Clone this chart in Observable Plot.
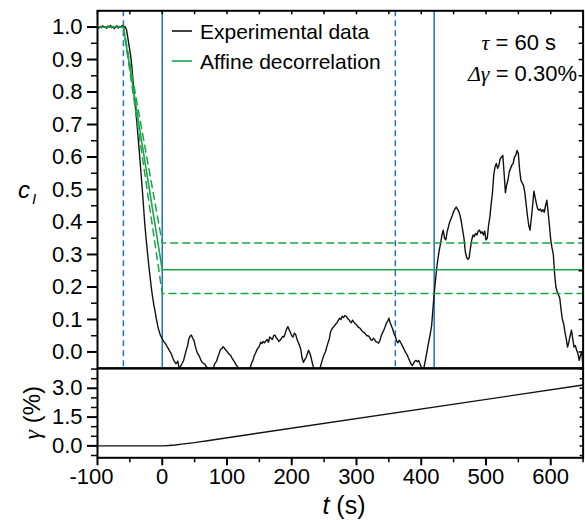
<!DOCTYPE html>
<html><head><meta charset="utf-8">
<script src="https://cdn.jsdelivr.net/npm/d3@7"></script>
<script src="https://cdn.jsdelivr.net/npm/@observablehq/plot@0.6"></script>
<style>
body{margin:0;background:#fff;}
#chart{position:relative;width:585px;height:520px;background:#fff;}
#chart svg{position:absolute;left:0;display:block;overflow:visible;}
</style>
</head><body>
<div id="chart"></div>
<script>
// ---------- data ----------
const tExp = [-100,-98,-96,-94,-92,-90,-88,-86,-84,-82,-80,-78,-76,-74,-72,-70,-68,-66,-64,-62,-60,-58,-57,
-55,-53,-51,-49,-47,-45,-43,-41,-39,-37,-35,-33,-31,-29,-27,-25,-23,-21,-19,-17,-15,-13,-11,-9,-7,-5,-3,-1,
1,3,5,7,9,11,13,15,17,19,21,23,24,26,28,31,33,35,37,39,41,43,45,47,49,51,53,55,57,59,61,63,66,68,71,74,78,81,84,86,88,90,92,94,96,98,100,102,104,106,108,110,112,114,116,118,121,126,131,135,138,140,142,144,146,148,150,
152,154,156,158,160,162,164,166,168,170,172,174,176,178,180,182,184,186,188,190,192,194,196,198,200,202,204,206,208,210,212,214,216,218,220,222,224,226,228,230,232,234,238,243,245,247,250,252,254,256,258,
260,262,264,266,268,270,272,274,276,278,280,282,284,286,288,290,292,294,296,298,300,302,304,306,308,310,312,314,316,318,320,322,324,326,328,330,332,334,336,338,340,342,344,346,348,350,352,354,356,358,
360,362,364,366,368,370,372,374,376,378,380,382,384,386,388,390,392,394,396,398,400,403,406,408,410,412,414,416,418,
420,422,424,426,428,430,432,434,436,438,440,442,444,446,448,450,452,454,456,458,460,462,464,466,468,470,472,474,476,478,480,482,484,486,488,490,492,494,496,498,
500,502,504,506,508,510,512,514,516,518,520,522,524,526,528,530,532,534,536,538,540,542,544,546,548,550,552,554,556,558,560,562,564,566,568,570,572,574,576,578,
580,582,584,586,588,590,592,594,596,598,600,602,604,606,608,610,612,614,616,618,620,622,624,626,628,630,632,634,636,638,640,642,644,646,648,650];
const cExp = [1.000,0.997,1.002,0.998,1.004,0.999,1.001,0.996,1.003,1.000,1.005,0.998,1.002,0.995,1.001,1.004,0.997,1.002,0.999,1.005,0.998,1.002,1.000,
0.99,0.965,0.94,0.915,0.88,0.83,0.785,0.745,0.70,0.655,0.605,0.555,0.505,0.45,0.395,0.35,0.31,0.27,0.235,0.20,0.17,0.145,0.125,0.10,0.08,0.065,0.052,0.045,
0.036,0.03,0.026,0.018,0.012,0.004,-0.002,-0.012,-0.022,-0.03,-0.036,-0.032,-0.028,-0.05,-0.045,-0.034,-0.026,-0.01,0.005,0.018,0.04,0.048,0.052,0.042,0.036,0.018,0.004,-0.006,-0.012,-0.022,-0.03,-0.034,-0.038,-0.045,-0.052,-0.06,-0.058,-0.036,-0.028,-0.015,-0.004,0.008,0.01,0.016,0.012,0.006,0.002,-0.004,-0.008,-0.012,-0.02,-0.026,-0.032,-0.04,-0.044,-0.052,-0.06,-0.065,-0.062,-0.055,-0.034,-0.026,-0.012,-0.004,0.006,0.012,0.018,
0.03,0.026,0.032,0.028,0.034,0.038,0.03,0.046,0.042,0.038,0.05,0.052,0.044,0.04,0.032,0.036,0.042,0.048,0.046,0.058,0.07,0.078,0.068,0.06,0.05,0.046,0.058,0.054,0.04,0.03,0.02,0.008,-0.018,-0.032,-0.024,-0.018,-0.006,0.005,-0.004,-0.018,-0.036,-0.05,-0.062,-0.058,-0.04,-0.026,-0.008,0.0,0.015,0.028,0.04,
0.062,0.07,0.076,0.08,0.086,0.09,0.098,0.104,0.1,0.11,0.106,0.112,0.11,0.104,0.1,0.094,0.09,0.098,0.092,0.087,0.084,0.078,0.075,0.072,0.066,0.062,0.06,0.055,0.05,0.05,0.046,0.038,0.036,0.042,0.038,0.032,0.03,0.027,0.034,0.048,0.058,0.066,0.076,0.088,0.094,0.104,0.09,0.08,0.07,0.056,
0.048,0.034,0.028,0.036,0.03,0.022,0.014,0.006,-0.002,-0.008,-0.018,-0.026,-0.036,-0.042,-0.036,-0.028,-0.026,-0.03,-0.026,-0.036,-0.046,-0.06,-0.03,-0.008,0.014,0.036,0.056,0.08,0.13,
0.18,0.22,0.26,0.29,0.315,0.335,0.36,0.375,0.35,0.345,0.37,0.385,0.4,0.41,0.42,0.432,0.44,0.446,0.44,0.432,0.42,0.4,0.375,0.35,0.31,0.292,0.285,0.29,0.32,0.345,0.36,0.355,0.365,0.36,0.372,0.375,0.365,0.37,0.36,0.372,
0.345,0.35,0.39,0.415,0.455,0.49,0.545,0.57,0.58,0.565,0.575,0.595,0.6,0.605,0.55,0.49,0.515,0.53,0.555,0.565,0.575,0.58,0.6,0.605,0.62,0.61,0.56,0.528,0.52,0.512,0.49,0.455,0.42,0.39,0.375,0.41,0.45,0.495,0.475,0.455,
0.44,0.436,0.44,0.432,0.438,0.43,0.45,0.467,0.43,0.39,0.345,0.32,0.3,0.24,0.2,0.185,0.175,0.165,0.13,0.1,0.087,0.06,0.04,0.015,0.03,0.05,0.067,0.04,0.015,0.02,0.005,-0.005,-0.026,-0.01,0.0,-0.05];

// affine decorrelation model (solid) and its bounds (dashed)
const tFit = [-100, -60, 0, 650];
const cFit = [1.0, 1.0, 0.253, 0.253];
const tFitBound = [-60, 0, 650];
const cFitUpper = [1.0, 0.335, 0.335];
const cFitLower = [1.0, 0.18, 0.18];

// window markers
const windowStarts = [-60, 360];
const windowEnds = [0, 420];

// applied strain
const tGamma = [-100, 0, 10, 20, 30, 40, 50, 60, 70, 80, 650];
const gammaPct = [0, 0, 0.02, 0.05, 0.09, 0.13, 0.17, 0.22, 0.27, 0.32, 3.17];

// ticks
const tTicks = [-100, 0, 100, 200, 300, 400, 500, 600];
const tMinor = [-50, 50, 150, 250, 350, 450, 550, 650];
const tAll = [-100,-50,0,50,100,150,200,250,300,350,400,450,500,550,600,650];
const cTicks = [0,0.1,0.2,0.3,0.4,0.5,0.6,0.7,0.8,0.9,1.0];
const cMinor = [0.05,0.15,0.25,0.35,0.45,0.55,0.65,0.75,0.85,0.95];
const gammaTicks = [0, 1.5, 3.0];
const gammaMinor = [-0.5, 0.5, 1.0, 2.0, 2.5, 3.5, 4.0];
const gammaAll = [-0.5,0,0.5,1,1.5,2,2.5,3,3.5,4];

const legendLabels = ["Experimental data", "Affine decorrelation"];

// ---------- build ----------
const BLUE = "#2270c0", GREEN = "#19a64a";
const FONT = "'Liberation Sans', Arial, Helvetica, sans-serif";
const SERIF = "'Liberation Serif', 'Times New Roman', serif";
const W = 585, ML = 97, MR = 2.4;
const X_DOMAIN = [-100, 650];

const expData = tExp.map((t, i) => ({t, c: cExp[i]}));
const fitData = tFit.map((t, i) => ({t, c: cFit[i]}));
const upData = tFitBound.map((t, i) => ({t, c: cFitUpper[i]}));
const loData = tFitBound.map((t, i) => ({t, c: cFitLower[i]}));
const gData = tGamma.map((t, i) => ({t, g: gammaPct[i]}));

const topH = 370, topMT = 10.3, topMB = 2.3;
const plotW = W - ML - MR;
const topPH = topH - topMT - topMB;

function topDecor(index, scales, values, dims) {
  const g = d3.create("svg:g").attr("font-family", FONT).attr("fill", "#000").attr("text-anchor", "start");
  const colors = ["#111", GREEN];
  legendLabels.forEach((lab, i) => {
    const y = 31 + i * 30;
    g.append("line").attr("x1", 172).attr("x2", 192).attr("y1", y).attr("y2", y)
      .attr("stroke", colors[i]).attr("stroke-width", 1.6);
    g.append("text").attr("x", 200).attr("y", y).attr("dy", "0.36em").attr("text-anchor", "start")
      .attr("font-size", 21).text(lab);
  });
  const a1 = g.append("text").attr("x", 556).attr("y", 42).attr("dy", "0.36em")
    .attr("text-anchor", "end").attr("font-size", 22);
  a1.append("tspan").attr("font-family", SERIF).attr("font-style", "italic").text("τ");
  a1.append("tspan").text(" = 60 s");
  const a2 = g.append("text").attr("x", 577).attr("y", 73).attr("dy", "0.36em")
    .attr("text-anchor", "end").attr("font-size", 22);
  a2.append("tspan").attr("font-family", SERIF).attr("font-style", "italic").text("Δγ");
  a2.append("tspan").text(" = 0.30%");
  const yl = g.append("text").attr("x", 18).attr("y", 189).attr("dy", "0.36em")
    .attr("text-anchor", "start").attr("font-size", 24);
  yl.append("tspan").attr("font-style", "italic").text("c");
  yl.append("tspan").attr("font-style", "italic").attr("font-size", 15).attr("dx", 2).attr("dy", 6).text("I");
  return g.node();
}

const topPlot = Plot.plot({
  width: W, height: topH, marginLeft: ML, marginRight: MR, marginTop: topMT, marginBottom: topMB,
  style: {fontFamily: FONT, fontSize: "22px", color: "#000", background: "transparent", overflow: "visible"},
  x: {domain: X_DOMAIN, axis: null},
  y: {domain: [-0.05, 1.05], axis: null},
  marks: [
    Plot.ruleX(windowStarts, {x: d => d, stroke: BLUE, strokeWidth: 1.5, strokeDasharray: "6,4"}),
    Plot.ruleX(windowEnds, {x: d => d, stroke: BLUE, strokeWidth: 1.5}),
    Plot.line(expData, {x: "t", y: "c", stroke: "#111", strokeWidth: 1.4, clip: true}),
    Plot.line(upData, {x: "t", y: "c", stroke: GREEN, strokeWidth: 1.5, strokeDasharray: "7,5"}),
    Plot.line(loData, {x: "t", y: "c", stroke: GREEN, strokeWidth: 1.5, strokeDasharray: "7,5"}),
    Plot.line(fitData, {x: "t", y: "c", stroke: GREEN, strokeWidth: 1.6}),
    Plot.tickX(tAll, {x: d => d, insetBottom: topPH - 4, strokeWidth: 1.5}),
    Plot.tickY(cTicks.concat(cMinor), {y: d => d, insetLeft: plotW - 4, strokeWidth: 1.5}),
    Plot.tickY(cMinor, {y: d => d, insetLeft: -6, insetRight: plotW, strokeWidth: 1.5}),
    Plot.axisY(cTicks, {tickSize: 10, tickPadding: 5, strokeWidth: 2, fontSize: 22,
      tickFormat: d => d.toFixed(1), label: null}),
    Plot.frame({stroke: "#000", strokeWidth: 2}),
    topDecor
  ]
});

const botTop = 366, botH = 520 - botTop, botMT = 2, botMB = 520 - 457.3;
const botPH = botH - botMT - botMB;

function botDecor(index, scales, values, dims) {
  const g = d3.create("svg:g").attr("font-family", FONT).attr("fill", "#000");
  const yl = g.append("text").attr("transform", `translate(31,${(botMT + botH - botMB) / 2}) rotate(-90)`)
    .attr("text-anchor", "middle").attr("dy", "0.36em").attr("font-size", 24);
  yl.append("tspan").attr("font-family", SERIF).attr("font-style", "italic").text("γ");
  yl.append("tspan").text(" (%)");
  const xl = g.append("text").attr("x", 344).attr("y", 505 - botTop).attr("dy", "0.36em")
    .attr("text-anchor", "middle").attr("font-size", 25);
  xl.append("tspan").attr("font-style", "italic").text("t");
  xl.append("tspan").text(" (s)");
  return g.node();
}

const botPlot = Plot.plot({
  width: W, height: botH, marginLeft: ML, marginRight: MR, marginTop: botMT, marginBottom: botMB,
  style: {fontFamily: FONT, fontSize: "22px", color: "#000", background: "transparent", overflow: "visible"},
  x: {domain: X_DOMAIN, axis: null},
  y: {domain: [-0.62, 4.03], axis: null},
  marks: [
    Plot.line(gData, {x: "t", y: "g", stroke: "#111", strokeWidth: 1.4}),
    Plot.tickY(gammaAll, {y: d => d, insetLeft: plotW - 3, strokeWidth: 1.5}),
    Plot.tickY(gammaMinor, {y: d => d, insetLeft: -6, insetRight: plotW, strokeWidth: 1.5}),
    Plot.tickX(tMinor, {x: d => d, insetTop: botPH, insetBottom: -5, strokeWidth: 1.5}),
    Plot.axisY(gammaTicks, {tickSize: 10, tickPadding: 5, strokeWidth: 2, fontSize: 22,
      tickFormat: d => d.toFixed(1), label: null}),
    Plot.axisX(tTicks, {tickSize: 8, tickPadding: 3, strokeWidth: 2, fontSize: 22,
      tickFormat: d => String(d), label: null}),
    Plot.frame({stroke: "#000", strokeWidth: 2}),
    botDecor
  ]
});

// nudge the "-100" label so its digits centre on the tick, as in the original
d3.select(botPlot).selectAll("text").filter(function(){ return this.textContent === "-100"; })
  .attr("dx", -6);

const chart = document.getElementById("chart");
topPlot.style.top = "0px";
botPlot.style.top = botTop + "px";
chart.appendChild(topPlot);
chart.appendChild(botPlot);
</script>
</body></html>
